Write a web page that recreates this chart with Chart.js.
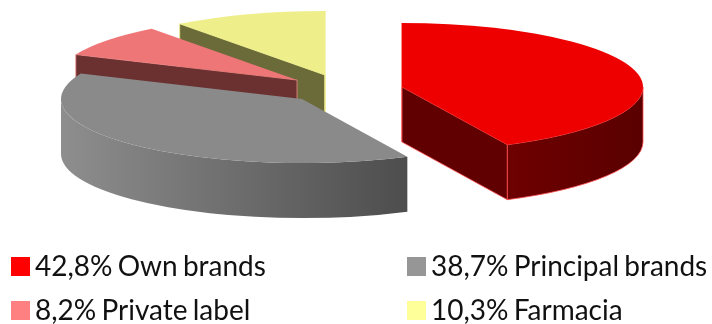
<!DOCTYPE html>
<html>
<head>
<meta charset="utf-8">
<script src="https://cdn.jsdelivr.net/npm/chart.js@4"></script>
<style>
  html, body { margin: 0; padding: 0; background: #fff; }
  #wrap { position: relative; width: 712px; height: 324px; overflow: hidden; }
  #chart { position: absolute; left: 0; top: 0; }
  .key { position: absolute; font: 28px/30px Lato, sans-serif; word-spacing: -2px; color: #111; white-space: nowrap; }
  .key i { position: absolute; left: 0; top: 4px; width: 19px; height: 19px; }
  .key span { position: absolute; left: 24px; top: -3px; }
</style>
</head>
<body>
<div id="wrap">
  <canvas id="chart" width="712" height="324"></canvas>
</div>
<script>
const categories = ["Own brands", "Principal brands", "Private label", "Farmacia"];
const shares = [42.8, 38.7, 8.2, 10.3];

const baseColors = ["#ff0000", "#969696", "#ff8080", "#ffff99"];
const topColors = ["#ee0000", "#8a8a8a", "#ee7677", "#eeee8a"];
const faceColors = ["#600000", "#5a5a5a", "#6b3030", "#6b6b3a"];
const wallLeftColors = ["#6e0000", "#8e8e8e", "#6b3030", "#6b6b3a"];
const wallRightColors = ["#5a0000", "#4d4d4d", "#6b3030", "#6b6b3a"];
const edgeColors = ["#ff5050", "rgba(0,0,0,0)", "#f08a8a", "#eeee8a"];

// how far each slice is pulled out of the pie, in pixels
const explodeX = [72, -28, -33, -5];
const explodeY = [-3, 9, -10, -15];

const tilt = 0.266;
const depth = 55;
const paintOrder = [3, 2, 1, 0];

function traceFace(ctx, r, angle) {
  const x = r * Math.cos(angle);
  const y = r * tilt * Math.sin(angle);
  ctx.beginPath();
  ctx.moveTo(0, 0);
  ctx.lineTo(x, y);
  ctx.lineTo(x, y + depth);
  ctx.lineTo(0, depth);
  ctx.closePath();
}

function drawSlice(ctx, arc, i) {
  const r = arc.outerRadius;
  const a0 = arc.startAngle;
  const a1 = arc.endAngle;

  ctx.save();
  ctx.translate(arc.x + explodeX[i], arc.y + explodeY[i]);
  ctx.lineWidth = 0.8;
  ctx.strokeStyle = edgeColors[i];
  ctx.fillStyle = faceColors[i];

  // cut faces of the wedge, skipping the ones turned away from the viewer
  if (Math.cos(a0) < 1e-6) {
    traceFace(ctx, r, a0);
    ctx.fill();
    ctx.stroke();
  }
  if (Math.cos(a1) > -1e-6) {
    traceFace(ctx, r, a1);
    ctx.fill();
    ctx.stroke();
  }

  // curved outer wall, only the part turned towards the viewer
  const t0 = Math.max(a0, 0);
  const t1 = Math.min(a1, Math.PI);
  if (t1 > t0) {
    const grad = ctx.createLinearGradient(r * Math.cos(t1), 0, r * Math.cos(t0), 0);
    grad.addColorStop(0, wallLeftColors[i]);
    grad.addColorStop(1, wallRightColors[i]);
    ctx.beginPath();
    ctx.ellipse(0, 0, r, r * tilt, 0, t0, t1);
    ctx.ellipse(0, depth, r, r * tilt, 0, t1, t0, true);
    ctx.closePath();
    ctx.fillStyle = grad;
    ctx.fill();
    ctx.stroke();
  }

  // top of the slice
  ctx.beginPath();
  ctx.moveTo(0, 0);
  ctx.ellipse(0, 0, r, r * tilt, 0, a0, a1);
  ctx.closePath();
  ctx.fillStyle = topColors[i];
  ctx.fill();
  ctx.restore();
}

const pie3d = {
  id: "pie3d",
  beforeDatasetsDraw(chart) {
    const arcs = chart.getDatasetMeta(0).data;
    paintOrder.forEach((i) => drawSlice(chart.ctx, arcs[i], i));
    return false; // the flat pie is replaced by the extruded one
  },
};

new Chart(document.getElementById("chart"), {
  type: "pie",
  data: {
    labels: categories,
    datasets: [
      {
        data: shares,
        backgroundColor: baseColors,
      },
    ],
  },
  options: {
    responsive: false,
    animation: false,
    radius: 241,
    layout: {
      padding: { right: 52, bottom: 144 },
    },
    plugins: {
      legend: { display: false },
      tooltip: { enabled: false },
    },
  },
  plugins: [pie3d],
});

// legend below the pie, two columns
const wrap = document.getElementById("wrap");
const keyLeft = [11, 407, 11, 407];
const keyTop = [253, 253, 297, 297];
categories.forEach((name, i) => {
  const key = document.createElement("div");
  key.className = "key";
  key.style.left = keyLeft[i] + "px";
  key.style.top = keyTop[i] + "px";
  const swatch = document.createElement("i");
  swatch.style.background = baseColors[i];
  const label = document.createElement("span");
  label.textContent = shares[i].toFixed(1).replace(".", ",") + "% " + name;
  key.appendChild(swatch);
  key.appendChild(label);
  wrap.appendChild(key);
});
</script>
</body>
</html>
